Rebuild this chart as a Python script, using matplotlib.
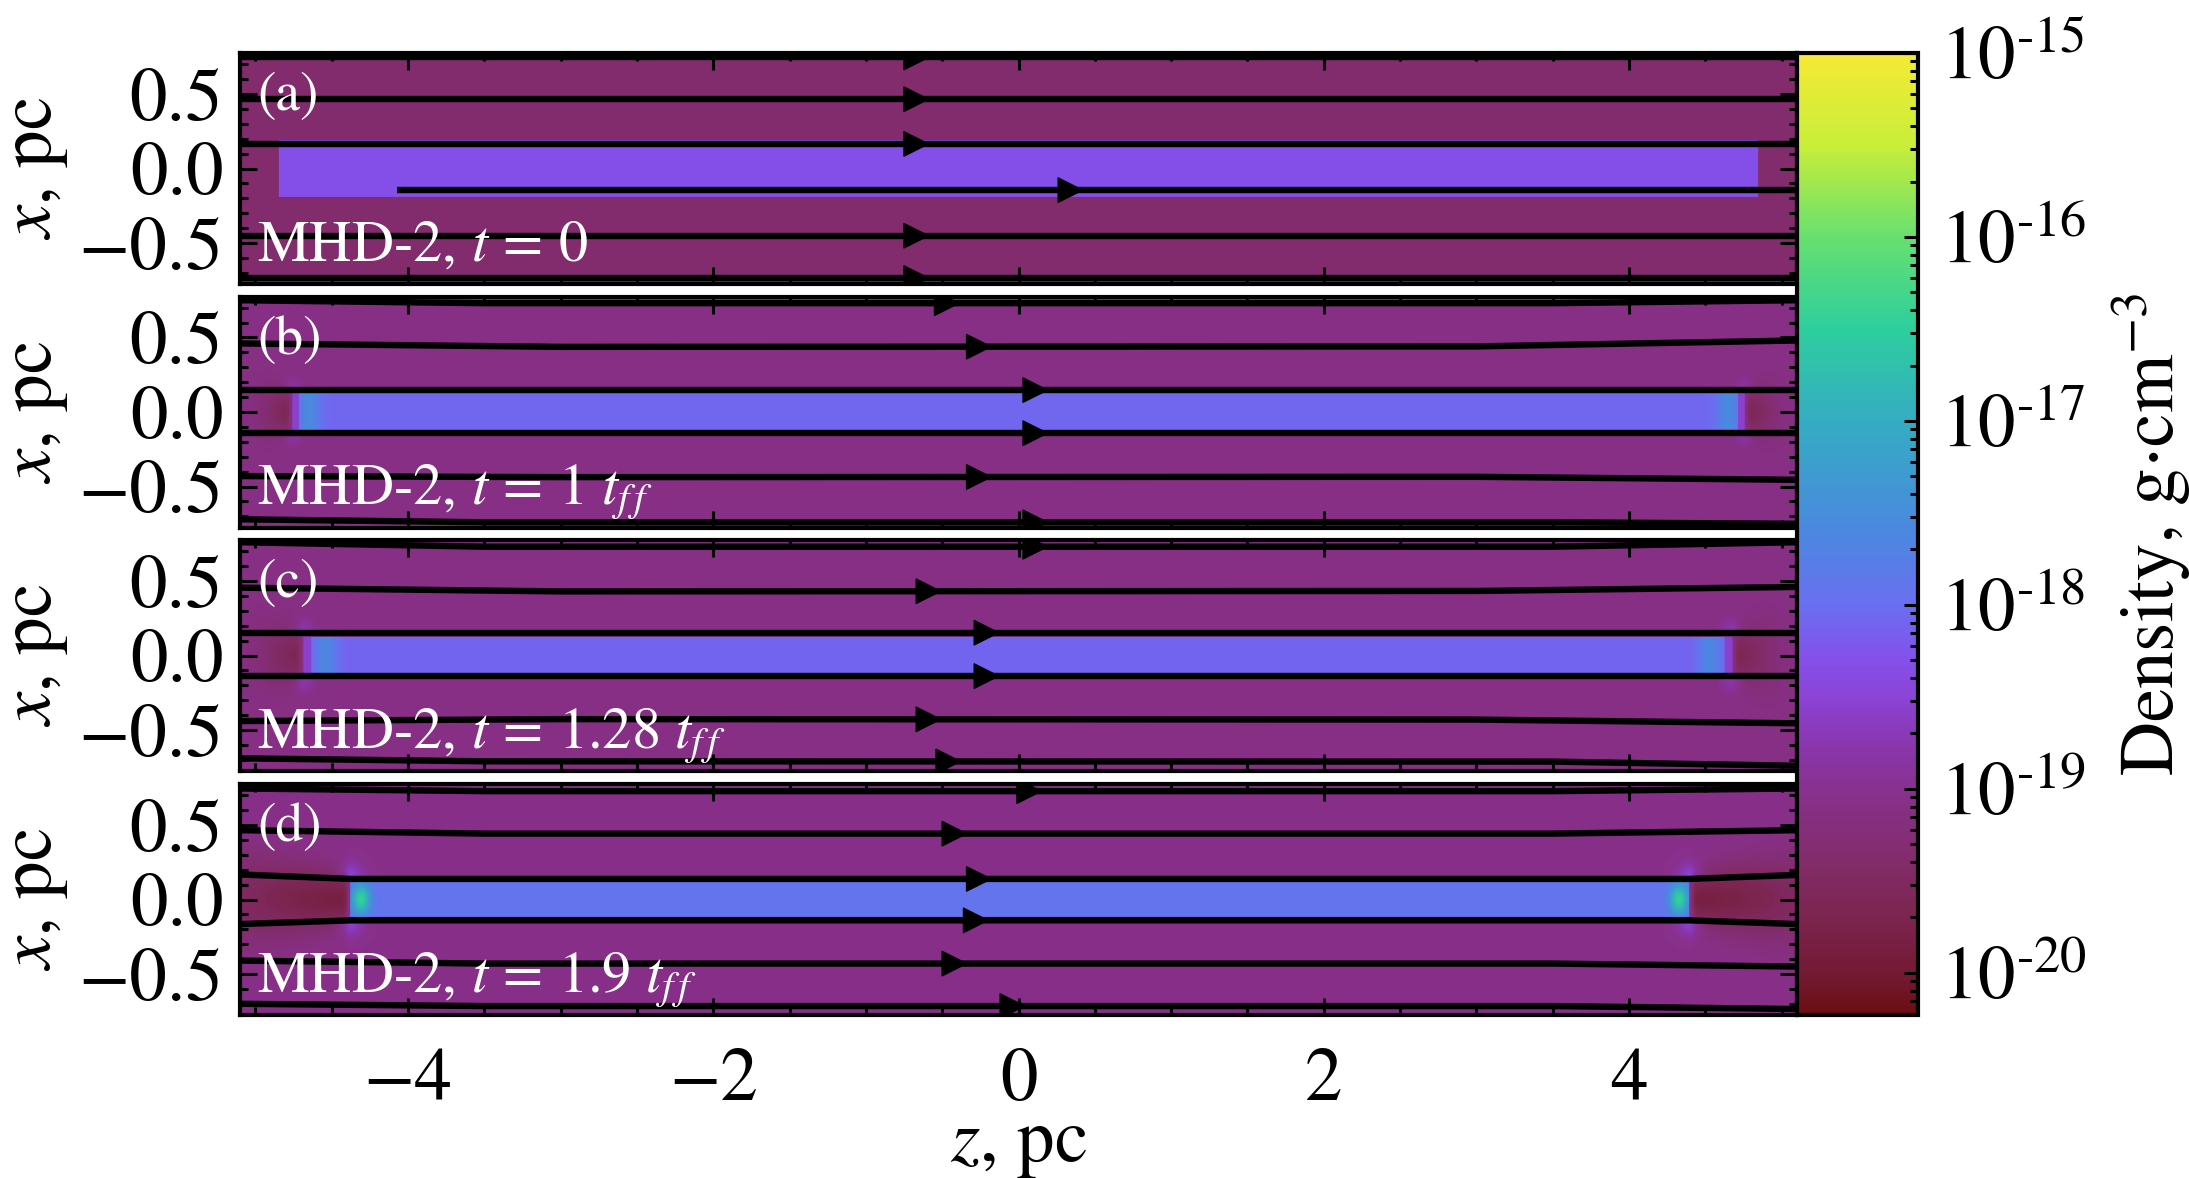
import numpy as np
import matplotlib as mpl
mpl.use('Agg')
import matplotlib.pyplot as plt
from matplotlib.colors import LogNorm, LinearSegmentedColormap
from matplotlib.patches import FancyArrowPatch
from matplotlib.ticker import MultipleLocator, FixedLocator, FixedFormatter

plt.rcParams['font.family'] = 'STIXGeneral'
plt.rcParams['mathtext.fontset'] = 'stix'

# colour scale: log10(density) -> colour
cmap_levels = [-20.23, -20.0, -19.7, -19.4, -19.05, -18.75, -18.5, -18.3, -18.0,
               -17.6, -17.3, -17.0, -16.5, -16.0, -15.5, -15.0]
cmap_colors = ['#6b0f12', '#741a36', '#7c254f', '#822c6a', '#88308a', '#8a36b0',
               '#8b44d6', '#8450ea', '#6a6ff0', '#4b88e0', '#3f9ad0', '#35acc3',
               '#2dce9e', '#66e070', '#c8ee3a', '#f5ea35']
cbar_ticks = [-20, -19, -18, -17, -16, -15]

panel_tags = ['(a)', '(b)', '(c)', '(d)']
panel_titles = [r'MHD-2, $t\,=\,0$', r'MHD-2, $t\,=\,1\ t_{f\,f}$',
                r'MHD-2, $t\,=\,1.28\ t_{f\,f}$', r'MHD-2, $t\,=\,1.9\ t_{f\,f}$']

# density map of each snapshot (log10 g cm^-3, positions in pc)
bg_logrho = [-19.35, -19.1, -19.1, -19.05]
fil_logrho = [-18.3, -18.07, -18.1, -17.92]
fil_halfwidth = [0.19, 0.125, 0.125, 0.118]
fil_left = [-4.85, -4.76, -4.69, -4.38]
fil_right = [4.85, 4.76, 4.68, 4.40]
tip_logrho = [None, -18.55, -18.55, None]
tip_len = [0.0, 0.04, 0.05, 0.0]
cap_logrho = [None, -17.55, -17.6, -16.4]
cap_offset = [0.0, 0.11, 0.15, 0.07]
cap_sigma_z = [1.0, 0.07, 0.07, 0.06]
cap_sigma_x = [1.0, 10.0, 10.0, 0.1]
void_logrho = [None, -19.65, -19.65, -19.85]
void_sigma_z = [1.0, 0.18, 0.25, 0.9]
void_sigma_x = [1.0, 0.12, 0.15, 0.16]
void_spread = [0.0, 0.4, 0.4, 0.22]
halo_logrho = [None, -18.9, -18.8, -18.55]
halo_sigma = [1.0, 0.06, 0.07, 0.08]

# field lines: (z, x) points along each line, and z of the arrow on it
field_lines = [
    [[(-5.1, 0.745), (5.1, 0.745)],
     [(-5.1, 0.465), (5.1, 0.465)],
     [(-5.1, 0.165), (5.1, 0.165)],
     [(-4.07, -0.145), (5.1, -0.145)],
     [(-5.1, -0.451), (5.1, -0.451)],
     [(-5.1, -0.735), (5.1, -0.735)]],
    [[(-5.1, 0.75), (-3.5, 0.73), (3.5, 0.73), (5.1, 0.75)],
     [(-5.1, 0.46), (-3.0, 0.437), (3.0, 0.44), (5.1, 0.48)],
     [(-5.1, 0.147), (5.1, 0.147)],
     [(-5.1, -0.142), (5.1, -0.142)],
     [(-5.1, -0.43), (-3.0, -0.437), (3.0, -0.435), (5.1, -0.455)],
     [(-5.1, -0.72), (-3.5, -0.74), (3.5, -0.74), (5.1, -0.75)]],
    [[(-5.1, 0.76), (-3.5, 0.73), (3.5, 0.73), (5.1, 0.76)],
     [(-5.1, 0.455), (-3.0, 0.43), (3.0, 0.433), (5.1, 0.46)],
     [(-5.1, 0.153), (5.1, 0.153)],
     [(-5.1, -0.138), (5.1, -0.138)],
     [(-5.1, -0.44), (-3.0, -0.427), (3.0, -0.43), (5.1, -0.455)],
     [(-5.1, -0.69), (-3.5, -0.71), (3.5, -0.712), (5.1, -0.74)]],
    [[(-5.1, 0.745), (-3.5, 0.727), (3.5, 0.727), (5.1, 0.745)],
     [(-5.1, 0.465), (-3.5, 0.442), (3.5, 0.442), (5.1, 0.465)],
     [(-5.1, 0.168), (-4.38, 0.138), (4.40, 0.138), (5.1, 0.165)],
     [(-5.1, -0.165), (-4.38, -0.14), (4.40, -0.14), (5.1, -0.165)],
     [(-5.1, -0.41), (-3.5, -0.43), (3.5, -0.43), (5.1, -0.45)],
     [(-5.1, -0.70), (-3.5, -0.715), (3.5, -0.715), (5.1, -0.735)]],
]
arrow_z = [
    [-0.65, -0.65, -0.65, 0.36, -0.65, -0.65],
    [-0.45, -0.24, 0.13, 0.13, -0.24, 0.13],
    [0.13, -0.57, -0.19, -0.19, -0.57, -0.44],
    [0.09, -0.40, -0.24, -0.26, -0.40, -0.02],
]

zlim = (-5.1, 5.1)
xlim = (-0.775, 0.775)

vmin_log, vmax_log = cmap_levels[0], cmap_levels[-1]
pos = [(v - vmin_log) / (vmax_log - vmin_log) for v in cmap_levels]
cmap = LinearSegmentedColormap.from_list('dens', list(zip(pos, cmap_colors)))
norm = LogNorm(vmin=10**vmin_log, vmax=10**vmax_log)

zg = np.linspace(zlim[0], zlim[1], 1400)
xg = np.linspace(xlim[0], xlim[1], 260)
Z, X = np.meshgrid(zg, xg)


def density_map(i):
    bg = bg_logrho[i]
    L = np.full(Z.shape, bg)
    w = fil_halfwidth[i]
    for end, sgn in ((fil_left[i], -1), (fil_right[i], 1)):
        d_out = (Z - end) * sgn
        if void_logrho[i] is not None:
            sx = void_sigma_x[i] + void_spread[i] * np.clip(d_out, 0, None)
            wv = np.exp(-(d_out / void_sigma_z[i])**2 - (X / sx)**2)
            # soft start right at the filament end
            wv = wv * (1 - np.exp(-(np.clip(d_out, 0, None) / 0.025)**2))
            L = np.where(d_out > 0, L + (void_logrho[i] - bg) * wv, L)
        if halo_logrho[i] is not None:
            for xs in (w + 0.05, -(w + 0.05)):
                wh = np.exp(-(((Z - end) ** 2 + (X - xs) ** 2) / halo_sigma[i]**2))
                L = L + (halo_logrho[i] - bg) * wh * (np.abs(X) > w)
    inside = (np.abs(X) < w) & (Z > fil_left[i]) & (Z < fil_right[i])
    F = np.full(Z.shape, fil_logrho[i])
    for end, sgn in ((fil_left[i], -1), (fil_right[i], 1)):
        d_in = (end - Z) * sgn
        if cap_logrho[i] is not None:
            wc = np.exp(-((d_in - cap_offset[i]) / cap_sigma_z[i])**2 - (X / cap_sigma_x[i])**2)
            F = F + (cap_logrho[i] - fil_logrho[i]) * wc
        if tip_logrho[i] is not None:
            F = np.where((d_in >= 0) & (d_in < tip_len[i]), tip_logrho[i], F)
    L = np.where(inside, F, L)
    return 10**L


fig = plt.figure(figsize=(10.945, 5.89), dpi=200)
W, H = 2189.0, 1178.0
left_px, right_px = 240, 1797
panel_h = 231
panel_tops = [53, 296.5, 540, 784]

for i in range(4):
    top = panel_tops[i]
    ax = fig.add_axes([left_px / W, 1 - (top + panel_h) / H,
                       (right_px - left_px) / W, panel_h / H])
    im = ax.imshow(density_map(i), origin='lower', extent=(*zlim, *xlim),
                   aspect='auto', cmap=cmap, norm=norm, interpolation='bilinear')
    for line, za in zip(field_lines[i], arrow_z[i]):
        lz = [p[0] for p in line]
        lx = [p[1] for p in line]
        ax.plot(lz, lx, color='k', lw=2.3, solid_capstyle='butt')
        xa = np.interp(za, lz, lx)
        xb = np.interp(za + 0.07, lz, lx)
        arr = FancyArrowPatch((za, xa), (za + 0.07, xb), arrowstyle='-|>',
                              mutation_scale=22, color='k', lw=0.5,
                              shrinkA=0, shrinkB=0)
        ax.add_patch(arr)
    ax.set_xlim(*zlim)
    ax.set_ylim(*xlim)
    ax.xaxis.set_major_locator(MultipleLocator(2))
    ax.xaxis.set_minor_locator(MultipleLocator(0.5))
    ax.yaxis.set_major_locator(FixedLocator([-0.5, 0.0, 0.5]))
    ax.yaxis.set_major_formatter(FixedFormatter(['\u22120.5', '0.0', '0.5']))
    ax.yaxis.set_minor_locator(MultipleLocator(0.1))
    ax.tick_params(which='both', direction='in', top=True, right=True,
                   labelsize=27, width=1.1)
    ax.tick_params(which='major', length=6)
    ax.tick_params(which='minor', length=3)
    ax.tick_params(axis='y', pad=6)
    ax.tick_params(axis='x', pad=12)
    for sp in ax.spines.values():
        sp.set_linewidth(1.5)
    ax.set_ylabel(r'$x$, pc', fontsize=27, labelpad=3)
    ax.text(0.011, 0.92, panel_tags[i], transform=ax.transAxes, color='white',
            fontsize=20, va='top', ha='left')
    ax.text(0.011, 0.10, panel_titles[i], transform=ax.transAxes, color='white',
            fontsize=21, va='baseline', ha='left')
    if i < 3:
        ax.tick_params(labelbottom=False)
    else:
        ax.set_xlabel(r'$z$, pc', fontsize=27, labelpad=-2)

cax = fig.add_axes([right_px / W, 1 - 1015 / H, (1918 - right_px) / W, (1015 - 53) / H])
cb = fig.colorbar(im, cax=cax)
cb.set_ticks([10.0**t for t in cbar_ticks])
cb.set_ticklabels([r'$10^{\text{-}%d}$' % (-t) for t in cbar_ticks])
cax.tick_params(which='both', direction='in', right=True, left=False,
                labelsize=27, width=1.1, pad=8)
cax.tick_params(which='major', length=5)
cax.tick_params(which='minor', length=3)
cb.outline.set_linewidth(1.5)
cb.set_label(r'Density, g$\cdot$cm$^{-3}$', fontsize=27, labelpad=8)

fig.savefig('out.png', dpi=200)
